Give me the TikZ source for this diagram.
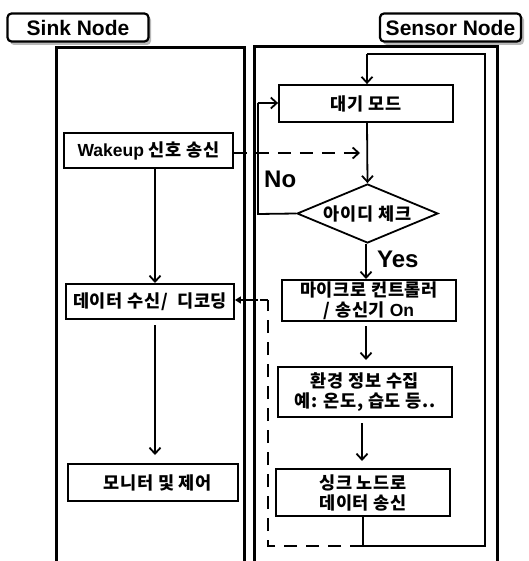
\documentclass[tikz,border=0pt]{standalone}
\usepackage{fontspec}
\setmainfont{Liberation Sans}
\newfontfamily\kr{Noto Sans CJK KR}[LetterSpace=4]
\usetikzlibrary{shapes.geometric,arrows.meta}
\newcommand{\K}[1]{{\kr\bfseries #1}}
\begin{document}
\begin{tikzpicture}[x=1pt,y=-1pt,
  lane/.style={line width=3pt},
  tab/.style={draw, line width=2.2pt, rounded corners=4pt, minimum width=141pt, minimum height=28pt, inner sep=0pt, font=\fontsize{21}{22}\selectfont\bfseries},
  box/.style={draw, line width=1.8pt, inner sep=0pt, align=center, font=\fontsize{17.5}{20}\selectfont\bfseries},
  conn/.style={line width=1.8pt},
  arr/.style={conn, -{Straight Barb[length=6pt,width=11pt,line width=1.8pt]}},
  dsh/.style={conn, dash pattern=on 13pt off 9pt},
  lbl/.style={font=\fontsize{24}{26}\selectfont\bfseries, inner sep=0pt}
]
\useasboundingbox[fill=white] (0,0) rectangle (528,561);

% header tabs
\fill[gray!55, rounded corners=4pt] (10,16) rectangle (151,45);
\node[tab, fill=white] (sinktab) at (78,27.5) {Sink Node};
\fill[gray!55, rounded corners=4pt] (383,16) rectangle (524,45);
\node[tab, fill=white] (senstab) at (450.5,27.5) {Sensor Node};

% lanes
\draw[lane] (56,561) -- (56,48) -- (244,48) -- (244,561);
\draw[lane] (254,561) -- (254,47) -- (497,47) -- (497,561);

% sink lane boxes
\node[box, minimum width=169pt, minimum height=35pt] (wake) at (148.5,150.5) {Wakeup \K{신호 송신}};
\node[box, minimum width=168pt, minimum height=35pt] (recv) at (150,301.5) {\K{데이터 수신/~~디코딩}};
\node[box, minimum width=170pt, minimum height=37pt] (mon) at (153,482.5) {\K{~~모니터 및 제어}};

% sensor lane
\node[box, minimum width=174pt, minimum height=37pt] (wait) at (366,103.5) {\K{대기 모드}};
\node[draw, diamond, shape aspect=2.4, line width=1.8pt, inner sep=0pt, minimum width=141pt, minimum height=59pt, font=\fontsize{17.5}{20}\selectfont\bfseries] (chk) at (367.5,213.5) {\K{아이디 체크}};
\node[box, minimum width=174pt, minimum height=41pt] (mcu) at (369,300.5) {\K{마이크로 컨트롤러}\\\K{/ 송신기} On};
\node[box, minimum width=174pt, minimum height=50pt] (env) at (365,392) {\K{환경 정보 수집}\\\K{예: 온도, 습도 등..}};
\node[box, minimum width=174pt, minimum height=47pt] (send) at (363,492.5) {\K{싱크 노드로}\\\K{데이터 송신}};

\node[lbl, anchor=west] (no) at (264,179) {No};
\node[lbl, anchor=west] (yes) at (377,259) {Yes};

% coordinates
\coordinate (lb) at (363,546);
\coordinate (lr) at (485,546);
\coordinate (tr) at (485,54);
\coordinate (tl) at (367,54);
\coordinate (nl) at (258,214);
\coordinate (nu) at (258,103);
\coordinate (dl) at (268,546);
\coordinate (du) at (268,300);
\coordinate (wd) at (360,153);

% connectors
\draw[arr] (wake.south -| 155,0) -- (155,283);
\draw[arr] (155,325) -- (155,455);
\draw[conn] (send.south) -- (lb) -- (lr) -- (tr) -- (tl);
\draw[arr] (tl) -- (wait.north -| tl);
\draw[arr] (wait.south -| 367,0) -- (chk.north);
\draw[conn] (chk.west) -- (nl) -- (nu);
\draw[arr] (nu) -- (wait.west |- nu);
\draw[arr] (chk.south -| 366,0) -- (366,279);
\draw[arr] (366,326) -- (366,360);
\draw[arr] (362,423) -- (362,461);
\draw[dsh, -{Straight Barb[length=6pt,width=11pt,line width=1.8pt]}] (wake.east |- wd) -- (wd);
\draw[dsh] (lb) -- (dl) -- (du);
\draw[conn, -{Triangle[length=6pt,width=7pt]}] (du) -- (260,300) (258,300) -- (recv.east |- du);
\end{tikzpicture}
\end{document}
